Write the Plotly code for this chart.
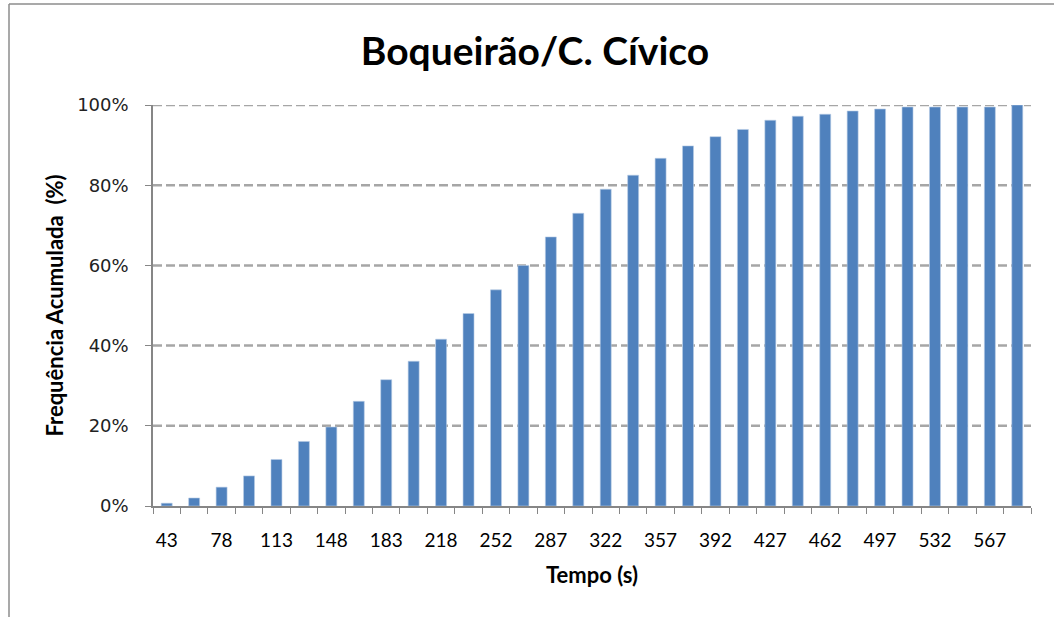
import plotly.graph_objects as go

tempo = [43, 60, 78, 95, 113, 130, 148, 165, 183, 200, 218, 235, 252, 270, 287, 305,
         322, 340, 357, 375, 392, 410, 427, 445, 462, 480, 497, 515, 532, 550, 567, 585]
freq_acum = [0.7, 2.0, 4.7, 7.5, 11.6, 16.1, 19.7, 26.1, 31.5, 36.1, 41.6, 48.0, 53.9, 60.0,
             67.1, 73.0, 79.0, 82.5, 86.7, 89.8, 92.1, 93.9, 96.2, 97.2, 97.7, 98.5, 99.0,
             99.5, 99.5, 99.5, 99.5, 100.0]
y_ticks = [0, 0.2, 0.4, 0.6, 0.8, 1.0]

cats = [str(t) for t in tempo]
ticktext = [c if i % 2 == 0 else "" for i, c in enumerate(cats)]
yvals = [v / 100 for v in freq_acum]

fig = go.Figure()
fig.add_trace(go.Bar(
    x=cats, y=yvals,
    marker=dict(color="#4F81BD", line=dict(color="#B9CDE5", width=0.6)),
    width=0.4,
))

W, H = 1054, 617
L, R, T, B = 153, 23, 105, 111
pw, ph = W - L - R, H - T - B

def px(x):
    return (x - L) / pw

def py(y):
    return (H - B - y) / ph

GRID = dict(color="#A6A6A6", width=2.5, dash="9px,4px")

fig.update_layout(
    width=W, height=H,
    margin=dict(l=L, r=R, t=T, b=B, pad=0),
    paper_bgcolor="white", plot_bgcolor="white",
    showlegend=False,
    title=dict(text="<b>Boqueirão/C. Cívico</b>", x=535 / W, xref="container",
               y=1 - 51 / H, yref="container", xanchor="center", yanchor="middle",
               font=dict(family="Lato", size=39, color="black")),
    xaxis=dict(
        type="category", tickmode="array", tickvals=cats, ticktext=ticktext,
        tickson="boundaries", ticks="outside", ticklen=6, tickcolor="#868686",
        tickangle=0,
        showline=True, linecolor="#868686", linewidth=1.5, showgrid=False,
        tickfont=dict(family="Lato", size=19, color="black"),
        ticklabelstandoff=16,
        title=dict(text="<b>Tempo (s)</b>", font=dict(family="Lato", size=22, color="black"),
                   standoff=18),
    ),
    yaxis=dict(
        range=[0, 1], tickvals=y_ticks, tickformat=".0%",
        ticks="outside", ticklen=6, tickcolor="#868686",
        showline=True, linecolor="#868686", linewidth=1.5,
        showgrid=False, zeroline=False,
        tickfont=dict(family="DejaVu Sans", size=18, color="#222222"),
        ticklabelstandoff=13,
        title=dict(text="<b>Frequência Acumulada  (%)</b>",
                   font=dict(family="Lato", size=22, color="black"), standoff=7),
    ),
    shapes=[
        dict(type="line", xref="paper", yref="paper", x0=px(9), x1=px(9), y0=py(4), y1=py(640),
             line=dict(color="#8C8C8C", width=1.5)),
        dict(type="line", xref="paper", yref="paper", x0=px(9), x1=px(1080), y0=py(4), y1=py(4),
             line=dict(color="#8C8C8C", width=1.5)),
    ] + [
        dict(type="line", xref="paper", yref="y", x0=0, x1=1, y0=v, y1=v,
             line=GRID, layer="below")
        for v in y_ticks[1:]
    ],
)

fig.write_html("out.html")
